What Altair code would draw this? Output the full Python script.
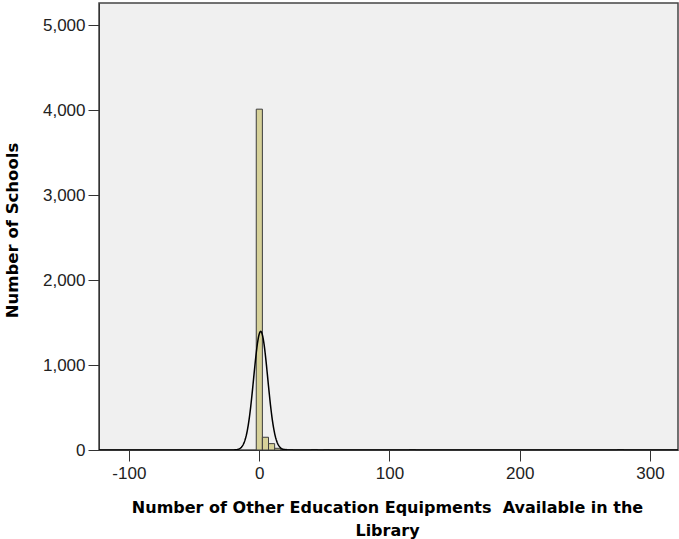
import altair as alt
import pandas as pd
import numpy as np

# Histogram bins (start, end) and counts
bin_start = [-2.2, 2.5, 7.2, 11.9, 16.6, 21.3, 40.1, 49.5, 115.3, 275.1]
bin_end   = [2.5, 7.2, 11.9, 16.6, 21.3, 26.0, 44.8, 54.2, 120.0, 279.8]
counts    = [4010, 150, 75, 20, 8, 4, 6, 5, 3, 4]

# Fitted normal curve parameters
curve_mean = 1.2
curve_sd = 5.4
curve_peak = 1395

x_ticks = [-100, 0, 100, 200, 300]
y_ticks = [0, 1000, 2000, 3000, 4000, 5000]
x_domain = [-122.9, 321.5]
y_domain = [0, 5259]

bars = pd.DataFrame({"start": bin_start, "end": bin_end, "count": counts})

cx = np.linspace(x_domain[0], x_domain[1], 1200)
cy = curve_peak * np.exp(-((cx - curve_mean) ** 2) / (2 * curve_sd ** 2))
curve = pd.DataFrame({"x": cx, "y": cy})

TFONT = "DejaVu Sans"
LFONT = "Liberation Sans"

xscale = alt.Scale(domain=x_domain, nice=False, zero=False)
yscale = alt.Scale(domain=y_domain, nice=False)

xaxis = alt.Axis(
    values=x_ticks, grid=False,
    labelExpr="datum.value < 0 ? '-' + format(-datum.value, 'd') : format(datum.value, 'd')",
    title=["Number of Other Education Equipments\u00a0 Available in the", "Library"],
    titleFont=TFONT, titleFontSize=16, titleFontWeight="bold", titleColor="#000000",
    titleX=288, titleY=49, titleAlign="center", titleBaseline="top", titleLineHeight=23,
    labelFont=LFONT, labelFontSize=17, labelColor="#222222", labelPadding=4,
    tickSize=11, tickColor="#333333", domainColor="#333333", labelFlush=False,
)
yaxis = alt.Axis(
    values=y_ticks, format=",d", grid=False,
    title="Number of Schools",
    titleFont=TFONT, titleFontSize=16.5, titleFontWeight="bold", titleColor="#000000",
    titleX=-87, titleY=227, titleAngle=-90, titleAlign="center", titleBaseline="middle",
    labelFont=LFONT, labelFontSize=17, labelColor="#222222", labelPadding=3,
    tickSize=11, tickColor="#333333", domainColor="#333333", labelFlush=False,
)

hist = alt.Chart(bars).mark_rect(
    fill="#D6D199", stroke="#3c3c3c", strokeWidth=1
).encode(
    x=alt.X("start:Q", scale=xscale, axis=xaxis),
    x2="end:Q",
    y=alt.Y("count:Q", scale=yscale, axis=yaxis),
    y2=alt.datum(0),
)

line = alt.Chart(curve).mark_line(color="#000000", strokeWidth=1.5, clip=True).encode(
    x=alt.X("x:Q", scale=xscale),
    y=alt.Y("y:Q", scale=yscale),
)

chart = alt.layer(hist, line).properties(
    width=579, height=447,
    autosize=alt.AutoSizeParams(type="none"),
    padding={"left": 99, "top": 3, "right": 1, "bottom": 89},
    background="#FFFFFF",
).configure_view(
    fill="#F0F0F0", stroke="#444444", strokeWidth=1.5
)

chart.save("out.html", embed_options={"renderer": "svg", "actions": False})
